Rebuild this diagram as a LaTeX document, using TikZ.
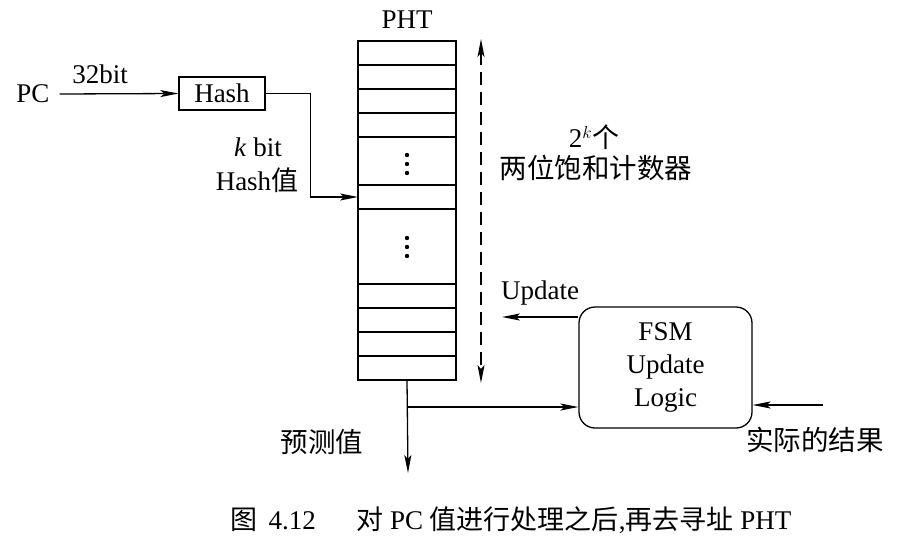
\documentclass[tikz,border=0pt]{standalone}
\usepackage{fontspec}
\setmainfont{Liberation Serif}
\newfontfamily\cjk{Noto Sans CJK SC}
\usetikzlibrary{arrows.meta}
\begin{document}
\begin{tikzpicture}[x=1pt,y=-1pt,
  txt/.style={inner sep=0pt,font=\fontsize{27}{32}\selectfont},
  zh/.style={inner sep=0pt,font=\fontsize{27.5}{32}\selectfont\cjk},
  tip/.style={-{Stealth[length=18pt,width=7pt,inset=4pt]}},
  arr/.style={line width=1.3pt,tip},
  ln/.style={line width=1.3pt},
  box/.style={draw,line width=1.3pt,inner sep=0pt}]
\useasboundingbox (0,0) rectangle (920,546);
% PHT table
\node[box,minimum width=98pt,minimum height=339pt] (pht) at (407,210.5) {};
\foreach \yy in {65,89,113,137,185,209,284,308,332,356}
  \draw[ln] (358,\yy) -- (456,\yy);
\foreach \yy in {155,164,173,238,247,256}
  \fill (407,\yy) circle (2.2pt);
\node[txt] (phtlbl) at (407,20) {PHT};
% input path
\node[txt] (pc) at (33,94) {PC};
\node[txt] (w32) at (100,74) {32bit};
\node[box,minimum width=86pt,minimum height=33pt,txt] (hash) at (222,93.5) {Hash};
\draw[arr] (pc.east) ++(10,0) -- (hash.west);
\coordinate (hin) at (358,197);
\draw[arr] (hash.east) -- ++(45,0) |- (hin);
\node[txt] (kbit) at (258,147) {\textit{k} bit};
\node[txt] (hval) at (257,180) {Hash{\cjk 值}};
% dashed range
\coordinate (dtop) at (481,39);
\coordinate (dbot) at (481,383);
\draw[ln,dash pattern=on 13pt off 7pt,{Stealth[length=18pt,width=7pt,inset=4pt]}-{Stealth[length=18pt,width=7pt,inset=4pt]}] (dtop) -- (dbot);
\node[txt] (cnt1) at (594,137) {2$^{k}${\cjk 个}};
\node[zh] (cnt2) at (596,168) {两位饱和计数器};
% FSM
\node[box,rounded corners=16pt,minimum width=173pt,minimum height=121pt,align=center,font=\fontsize{27}{33}\selectfont] (fsm) at (665.5,367.5) {FSM\\Update\\Logic};
\coordinate (upd) at (502,317);
\draw[arr] (fsm.west |- upd) -- (upd);
\node[txt] (updlbl) at (540,293) {Update};
\coordinate (out) at (408,473);
\draw[arr] (pht.south) -- (out);
\coordinate (br) at (408,407);
\draw[arr] (br) -- (fsm.west |- br);
\node[zh] (pred) at (322,442) {预测值};
\coordinate (res) at (823,405);
\draw[arr] (res) -- (fsm.east |- res);
\node[zh] (real) at (815,440) {实际的结果};
% caption
\node[inner sep=0pt,font=\fontsize{27}{30}\selectfont] (cap) at (511,520) {{\cjk 图}\hspace{0.4em}4.12\hspace{1.5em}{\cjk 对}\hspace{0.25em}PC\hspace{0.25em}{\cjk 值进行处理之后},{\cjk 再去寻址}\hspace{0.25em}PHT};
\end{tikzpicture}
\end{document}
